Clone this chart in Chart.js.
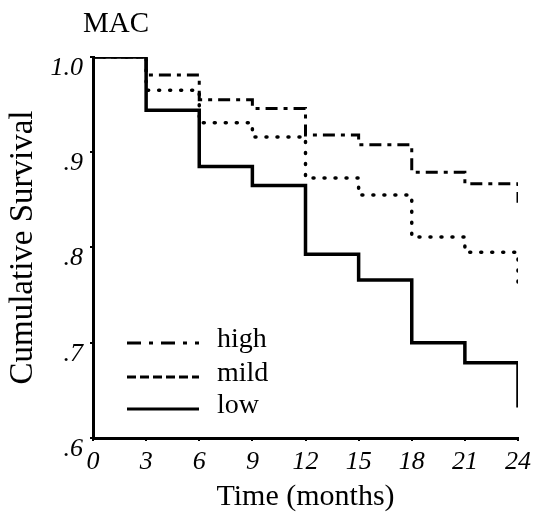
<!DOCTYPE html>
<html>
<head>
<meta charset="utf-8">
<script src="https://cdn.jsdelivr.net/npm/chart.js@4/dist/chart.umd.min.js"></script>
<style>
  html, body { margin: 0; padding: 0; background: #fff; }
  #wrap { width: 542px; height: 524px; }
</style>
</head>
<body>
<div id="wrap"><canvas id="km"></canvas></div>
<script>
// Kaplan-Meier step values
const months = [0, 3, 6, 9, 12, 15, 18, 21, 24];
const high = [1.0, 0.981, 0.955, 0.946, 0.918, 0.908, 0.879, 0.867, 0.847];
const mild = [1.0, 0.965, 0.931, 0.916, 0.873, 0.855, 0.811, 0.795, 0.763];
const low  = [1.0, 0.944, 0.885, 0.865, 0.793, 0.766, 0.700, 0.679, 0.632];
const seriesNames = ['high', 'mild', 'low'];
const yTicks = [0.6, 0.7, 0.8, 0.9, 1.0];

const serif = '"Liberation Serif", "Times New Roman", serif';

function toPoints(vals) {
  return vals.map((v, i) => ({ x: months[i], y: v }));
}

// legend line styles differ a bit from the plotted ones (as in the original)
const legendDash = [[14, 8, 4, 8], [9, 4], []];

const textPlugin = {
  id: 'textPlugin',
  afterDraw(chart) {
    const ctx = chart.ctx;
    const a = chart.chartArea;
    ctx.save();
    ctx.fillStyle = '#000';
    ctx.textBaseline = 'middle';
    ctx.font = '29px ' + serif;
    ctx.textAlign = 'left';
    ctx.fillText('MAC', a.left - 10, 24);

    // legend inside plot, lower left
    ctx.font = '28px ' + serif;
    const rows = [a.top + 286, a.top + 320, a.top + 352];
    seriesNames.forEach((name, i) => {
      ctx.beginPath();
      ctx.lineWidth = 3;
      ctx.strokeStyle = '#000';
      ctx.setLineDash(legendDash[i]);
      ctx.moveTo(a.left + 34, rows[i]);
      ctx.lineTo(a.left + 106, rows[i]);
      ctx.stroke();
      ctx.setLineDash([]);
      ctx.fillText(name, a.left + 124, rows[i] - 3);
    });
    ctx.restore();
  }
};

new Chart(document.getElementById('km'), {
  type: 'line',
  data: {
    datasets: [
      {
        label: seriesNames[0],
        data: toPoints(high),
        borderColor: '#000',
        borderWidth: 3,
        borderDash: [12, 6, 4, 6],
        stepped: true,
        pointRadius: 0
      },
      {
        label: seriesNames[1],
        data: toPoints(mild),
        borderColor: '#000',
        borderWidth: 3.5,
        borderDash: [1, 10],
        borderCapStyle: 'round',
        stepped: true,
        pointRadius: 0
      },
      {
        label: seriesNames[2],
        data: toPoints(low),
        borderColor: '#000',
        borderWidth: 3.5,
        stepped: true,
        pointRadius: 0
      }
    ]
  },
  options: {
    responsive: true,
    maintainAspectRatio: false,
    animation: false,
    layout: { padding: { left: 0, top: 57, right: 24, bottom: 0 } },
    plugins: {
      legend: { display: false },
      tooltip: { enabled: false }
    },
    scales: {
      x: {
        type: 'linear',
        min: 0,
        max: 24,
        afterFit: s => { s.height = 86; },
        afterBuildTicks: s => { s.ticks = months.map(v => ({ value: v })); },
        border: { display: true, color: '#000', width: 3 },
        grid: { display: true, drawOnChartArea: false, drawTicks: true, tickLength: 3, color: '#000', lineWidth: 2 },
        ticks: {
          color: '#000',
          padding: 6,
          maxRotation: 0,
          font: { family: serif, size: 26, style: 'italic' }
        },
        title: {
          display: true,
          text: 'Time (months)',
          color: '#000',
          font: { family: serif, size: 30 },
          padding: { top: 0, bottom: 9 }
        }
      },
      y: {
        min: 0.6,
        max: 1.0,
        afterFit: s => { s.width = 93; },
        afterBuildTicks: s => { s.ticks = yTicks.map(v => ({ value: v })); },
        border: { display: true, color: '#000', width: 3 },
        grid: { display: true, drawOnChartArea: false, drawTicks: true, tickLength: 3, color: '#000', lineWidth: 2 },
        ticks: {
          color: '#000',
          padding: 7,
          labelOffset: 11,
          font: { family: serif, size: 26, style: 'italic' },
          callback: v => (Math.abs(v - 1) < 1e-6 ? '1.0' : '.' + Math.round(v * 10))
        },
        title: {
          display: true,
          text: 'Cumulative Survival',
          color: '#000',
          font: { family: serif, size: 33 },
          padding: { top: 4, bottom: 0 }
        }
      }
    }
  },
  plugins: [textPlugin]
});
</script>
</body>
</html>
